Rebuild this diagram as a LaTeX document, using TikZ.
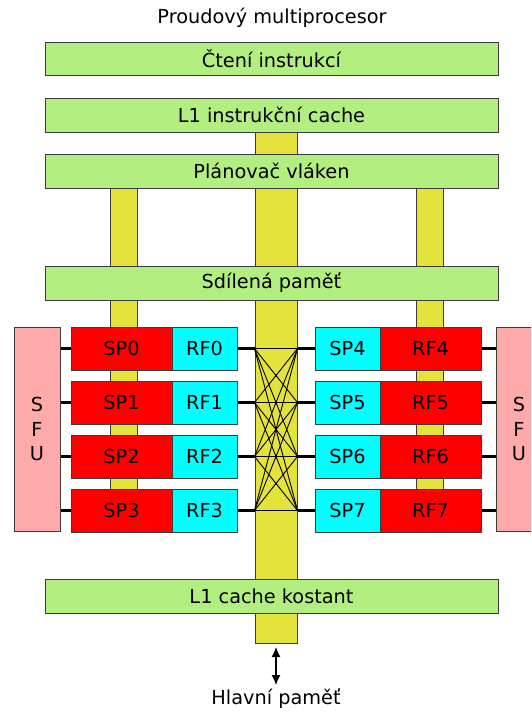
\documentclass[tikz,border=0pt]{standalone}
\usepackage{fontspec}
\setmainfont{DejaVu Sans}
\usetikzlibrary{arrows.meta}
\definecolor{bargreen}{HTML}{B3EF80}
\definecolor{busyellow}{HTML}{E3E33B}
\definecolor{sfupink}{HTML}{FFAAAA}
\definecolor{spred}{HTML}{FF0000}
\definecolor{rfcyan}{HTML}{00FFFF}
\definecolor{edge}{HTML}{3C3C3C}
\begin{document}
\begin{tikzpicture}[x=1pt,y=-1pt,
  txt/.style={font=\fontsize{19.3}{23}\selectfont},
  box/.style={draw=edge, line width=1pt, inner sep=0pt, txt},
  bar/.style={box, fill=bargreen, minimum width=453pt},
  bus/.style={box, fill=busyellow},
  sp/.style={box, fill=spred},
  rf/.style={box, fill=rfcyan},
  sfu/.style={box, fill=sfupink, minimum width=46pt, minimum height=204pt, align=center, font=\fontsize{19.3}{24.5}\selectfont},
  link/.style={line width=2.2pt, black},
  xlink/.style={line width=0.9pt, black}]
\useasboundingbox (0,0) rectangle (531,713);
\clip (0,0) rectangle (531,713);

% buses (drawn first, behind everything)
\node[bus, minimum width=27pt, minimum height=322pt] (colL) at (123.5,349) {};
\node[bus, minimum width=42pt, minimum height=511pt] (colC) at (276,387.5) {};
\node[bus, minimum width=27pt, minimum height=322pt] (colR) at (429.5,349) {};

% title
\node[txt] (title) at (272,18) {Proudový multiprocesor};

% green bars
\node[bar, minimum height=33pt] (read)   at (271.5,58.5) {Čtení instrukcí};
\node[bar, minimum height=34pt] (l1i)    at (271.5,115)  {L1 instrukční cache};
\node[bar, minimum height=34pt] (sched)  at (271.5,171)  {Plánovač vláken};
\node[bar, minimum height=34pt] (shared) at (271.5,283)  {Sdílená paměť};
\node[bar, minimum height=34pt] (l1c)    at (271.5,596)  {L1 cache kostant};

% SFUs
\node[sfu] (sfuL) at (37,429) {S\\F\\U};
\node[sfu] (sfuR) at (519,429) {S\\F\\U};

% rows
\foreach \i in {0,1,2,3} {
  \pgfmathsetmacro{\yc}{348.5+54*\i}
  \pgfmathtruncatemacro{\j}{\i+4}
  \node[sp, minimum width=101pt, minimum height=43pt] (sp\i) at (121.5,\yc) {SP\i};
  \node[rf, minimum width=65pt,  minimum height=43pt] (rf\i) at (204.5,\yc) {RF\i};
  \node[rf, minimum width=65pt,  minimum height=43pt] (sp\j) at (347.5,\yc) {SP\j};
  \node[sp, minimum width=101pt, minimum height=43pt] (rf\j) at (430.5,\yc) {RF\j};
  \coordinate (L\i) at (colC.west |- rf\i.east);
  \coordinate (R\i) at (colC.east |- sp\j.west);
  \draw[link] (sfuL.east |- sp\i.west) -- (sp\i.west);
  \draw[link] (rf\i.east) -- (L\i);
  \draw[link] (R\i) -- (sp\j.west);
  \draw[link] (rf\j.east) -- (sfuR.west |- rf\j.east);
}

% crossbar
\foreach \i in {0,1,2,3} {
  \foreach \k in {0,1,2,3} {
    \draw[xlink] (L\i) -- (R\k);
  }
}

% main memory
\node[txt] (mem) at (276,699) {Hlavní paměť};
\coordinate (arrTop) at (276,647);
\coordinate (arrBot) at (276,685);
\draw[line width=1.3pt, {Latex[length=10pt,width=9pt]}-{Latex[length=10pt,width=9pt]}] (arrTop) -- (arrBot);
\end{tikzpicture}
\end{document}
